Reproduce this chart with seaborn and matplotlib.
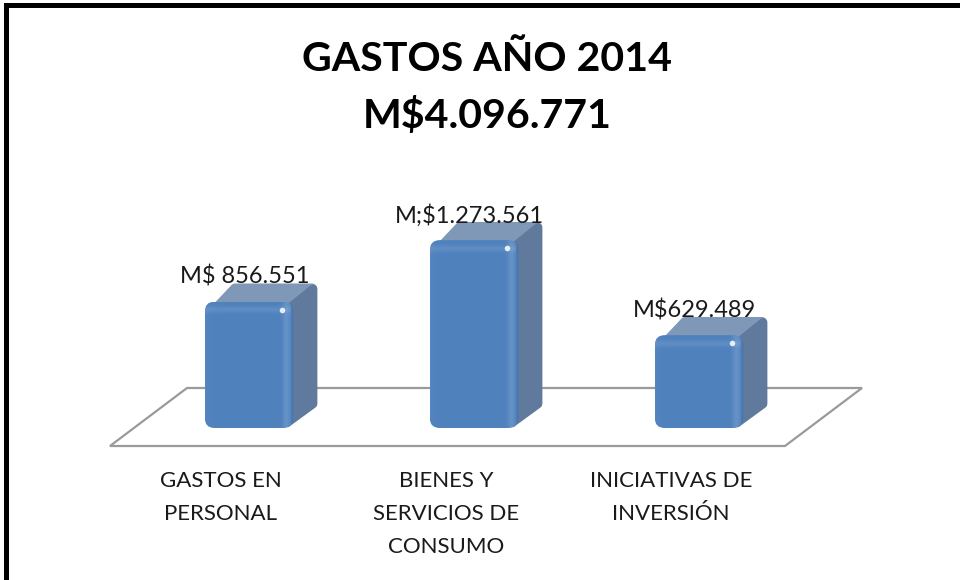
import numpy as np
import matplotlib
matplotlib.use('Agg')
import matplotlib.pyplot as plt
import seaborn as sns
from matplotlib.patches import FancyBboxPatch, Polygon, Rectangle
from matplotlib.transforms import ScaledTranslation

categories = ['GASTOS EN\nPERSONAL', 'BIENES Y\nSERVICIOS DE\nCONSUMO', 'INICIATIVAS DE\nINVERSIÓN']
values = [856551, 1273561, 629489]
value_labels = ['M$ 856.551', 'M;$1.273.561', 'M$629.489']
title = 'GASTOS AÑO 2014\nM$4.096.771'

W, H = 960, 580
sns.set_theme(style='white')
plt.rcParams['font.family'] = ['Lato', 'DejaVu Sans']

fig = plt.figure(figsize=(W / 100, H / 100), dpi=100, facecolor='white')

# pixel layers under and over the chart, for the fake 3D look
bg = fig.add_axes([0, 0, 1, 1], zorder=0)
fg = fig.add_axes([0, 0, 1, 1], zorder=2)
for a in (bg, fg):
    a.set_xlim(0, W)
    a.set_ylim(H, 0)
    a.axis('off')
    a.patch.set_alpha(0)

# plot area: category spacing 225 px, baseline at y=428
ax = fig.add_axes([136.5 / W, (H - 428) / H, 675 / W, 230 / H], zorder=1)
ax.patch.set_alpha(0)
sns.barplot(x=categories, y=values, color='#4f81bd', width=0.393, saturation=1, linewidth=0, edgecolor='none', ax=ax)
ax.set_xlim(-0.5, 2.5)
ax.set_ylim(0, 230 / 0.1475 * 1000)
ax.set_yticks([])
sns.despine(ax=ax, left=True, bottom=True)
ax.tick_params(axis='x', length=0, pad=31, labelsize=16, labelcolor='#1a1a1a')
shift = ScaledTranslation(-28 / 100, 0, fig.dpi_scale_trans)
for lab in ax.get_xticklabels():
    lab.set_linespacing(1.82)
    lab.set_verticalalignment('top')
    lab.set_transform(lab.get_transform() + shift)

# floor
bg.add_patch(Polygon([(110, 446), (187, 388), (862, 388), (785, 446)], closed=True,
                     facecolor='white', edgecolor='#9a9a9a', linewidth=1.6))

fig.canvas.draw()
r = 10
for bar, text in zip(ax.patches, value_labels):
    (x0, yb), (x1, yt) = ax.transData.transform([(bar.get_x(), 0),
                                                  (bar.get_x() + bar.get_width(), bar.get_height())])
    y0, y1 = H - yt, H - yb

    # side and top faces, thick round edges give the soft corners
    bg.add_patch(Polygon([(x0 + 12, y0 + 5), (x0 + 30, y0 - 14), (x1 + 19, y0 - 14), (x1 - 2, y0 + 5)], closed=True,
                         facecolor='#7f98b8', edgecolor='#7f98b8', linewidth=6, joinstyle='round'))
    bg.add_patch(Polygon([(x1 - 6, y0 + 8), (x1 + 20, y0 - 13), (x1 + 20, y1 - 24), (x1 - 6, y1 - 5)], closed=True,
                         facecolor='#5f7a9c', edgecolor='#5f7a9c', linewidth=6, joinstyle='round'))

    # round the seaborn bar and lay a bevel shading on it
    clip = FancyBboxPatch((x0 + r, y0 + r), x1 - x0 - 2 * r, y1 - y0 - 2 * r,
                          boxstyle=f'round,pad={r},rounding_size={r}', transform=fg.transData,
                          facecolor='none', edgecolor='none')
    fg.add_patch(clip)
    bar.set_clip_path(clip)

    n_x, n_y = int(round(x1 - x0)), int(round(y1 - y0))
    u = np.arange(n_x)[None, :]
    v = np.arange(n_y)[:, None]
    shade = np.zeros((n_y, n_x, 4))
    shade[..., :3] = 1.0
    light = 0.13 * np.exp(-((n_x - 8 - u) / 4.0) ** 2) + 0.09 * np.exp(-(v - 8) ** 2 / 12.0) + 0.04 * np.exp(-u / 5.0)
    shade[..., 3] = np.clip(light, 0, 1)
    dark = np.clip((u - (n_x - 4)) / 4.0, 0, 1) * 0.4
    shade[..., :3] = shade[..., :3] * (1 - (dark > 0)[..., None]) + np.array([0.18, 0.33, 0.55]) * (dark > 0)[..., None]
    shade[..., 3] = np.where(dark > 0, dark, shade[..., 3])
    img = fg.imshow(shade, extent=(x0, x1, y1, y0), aspect='auto', zorder=2, interpolation='nearest')
    img.set_clip_path(clip)
    fg.plot([x1 - 11], [y0 + 8], 'o', color='white', markersize=4, alpha=0.85, markeredgewidth=0, zorder=3)

    ax.annotate(text, (bar.get_x() + bar.get_width() / 2, bar.get_height()), xytext=(-3, 18),
                textcoords='offset points', ha='center', va='center', fontsize=17, color='#1a1a1a')
fg.set_xlim(0, W)
fg.set_ylim(H, 0)

fig.text(487 / W, 1 - 88 / H, title, ha='center', va='center', fontsize=29.6, fontweight='bold',
         color='black', linespacing=1.62)

# picture frame, left and top sides
fg.add_patch(Rectangle((4, 3), 956, 5, facecolor='black', edgecolor='none'))
fg.add_patch(Rectangle((4, 3), 5, 577, facecolor='black', edgecolor='none'))

fig.savefig('out.png', dpi=100)
